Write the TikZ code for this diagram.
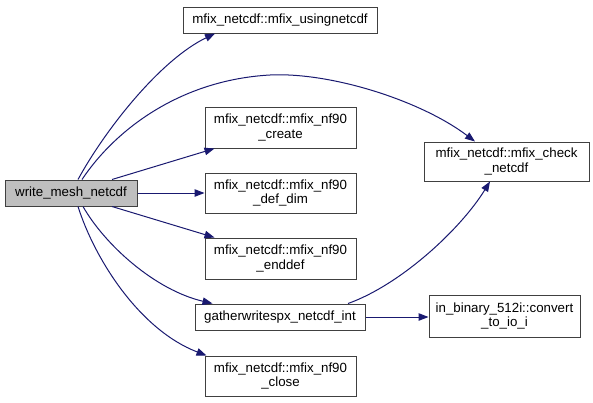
\documentclass[tikz,border=0pt]{standalone}
\usepackage{fontspec}
\setmainfont{Liberation Sans}
\usetikzlibrary{arrows.meta}
\definecolor{edgecol}{HTML}{191970}
\definecolor{boxline}{HTML}{404040}
\definecolor{rootfill}{HTML}{BFBFBF}
\begin{document}
\begin{tikzpicture}[x=1pt,y=-1pt,
  box/.style={draw=boxline,line width=1pt,fill=white,inner sep=0pt,align=center,
    font=\fontsize{13.3}{14.2}\selectfont},
  rootbox/.style={box,fill=rootfill},
  call/.style={draw=edgecol,line width=1pt,-{Triangle[length=10pt,width=7.5pt]}}]
\useasboundingbox (0,0) rectangle (593,402);
\node[rootbox,minimum width=132pt,minimum height=26pt] (wm) at (71,193) {write\_mesh\_netcdf};
\node[box,minimum width=194pt,minimum height=26pt] (using) at (280,20) {mfix\_netcdf::mfix\_usingnetcdf};
\node[box,minimum width=151pt,minimum height=41pt] (create) at (280.5,127.5) {mfix\_netcdf::mfix\_nf90\\\_create};
\node[box,minimum width=151pt,minimum height=40pt] (defdim) at (280.5,193) {mfix\_netcdf::mfix\_nf90\\\_def\_dim};
\node[box,minimum width=151pt,minimum height=41pt] (enddef) at (280.5,258.5) {mfix\_netcdf::mfix\_nf90\\\_enddef};
\node[box,minimum width=170pt,minimum height=26pt] (gather) at (280,317) {gatherwritespx\_netcdf\_int};
\node[box,minimum width=151pt,minimum height=40pt] (close) at (280.5,376) {mfix\_netcdf::mfix\_nf90\\\_close};
\node[box,minimum width=165pt,minimum height=39pt] (check) at (506.5,161.5) {mfix\_netcdf::mfix\_check\\\_netcdf};
\node[box,minimum width=151pt,minimum height=42pt] (convert) at (504.5,316) {in\_binary\_512i::convert\\\_to\_io\_i};
% edges
\draw[call] ([xshift=7pt]wm.north) .. controls (105,130) and (160,60) .. ([xshift=-65pt]using.south);
\draw[call] ([xshift=11pt]wm.north) .. controls (115,130) and (180,80) .. (270,75)
  .. controls (330,72) and (420,100) .. ([xshift=-31.5pt]check.north);
\draw[call] ([xshift=41pt]wm.north) -- ([xshift=10pt]create.south west);
\draw[call] (wm.east) -- (defdim.west);
\draw[call] ([xshift=41pt]wm.south) -- ([xshift=10pt]enddef.north west);
\draw[call] ([xshift=12pt]wm.south) .. controls (105,245) and (155,290) .. ([xshift=18pt]gather.north west);
\draw[call] ([xshift=7pt]wm.south) .. controls (95,260) and (140,330) .. ([xshift=2pt]close.north west);
\draw[call] ([xshift=68pt]gather.north) .. controls (400,285) and (460,230) .. ([xshift=-16.5pt]check.south);
\draw[call] (gather.east) -- (gather.east -| convert.west);
\end{tikzpicture}
\end{document}
